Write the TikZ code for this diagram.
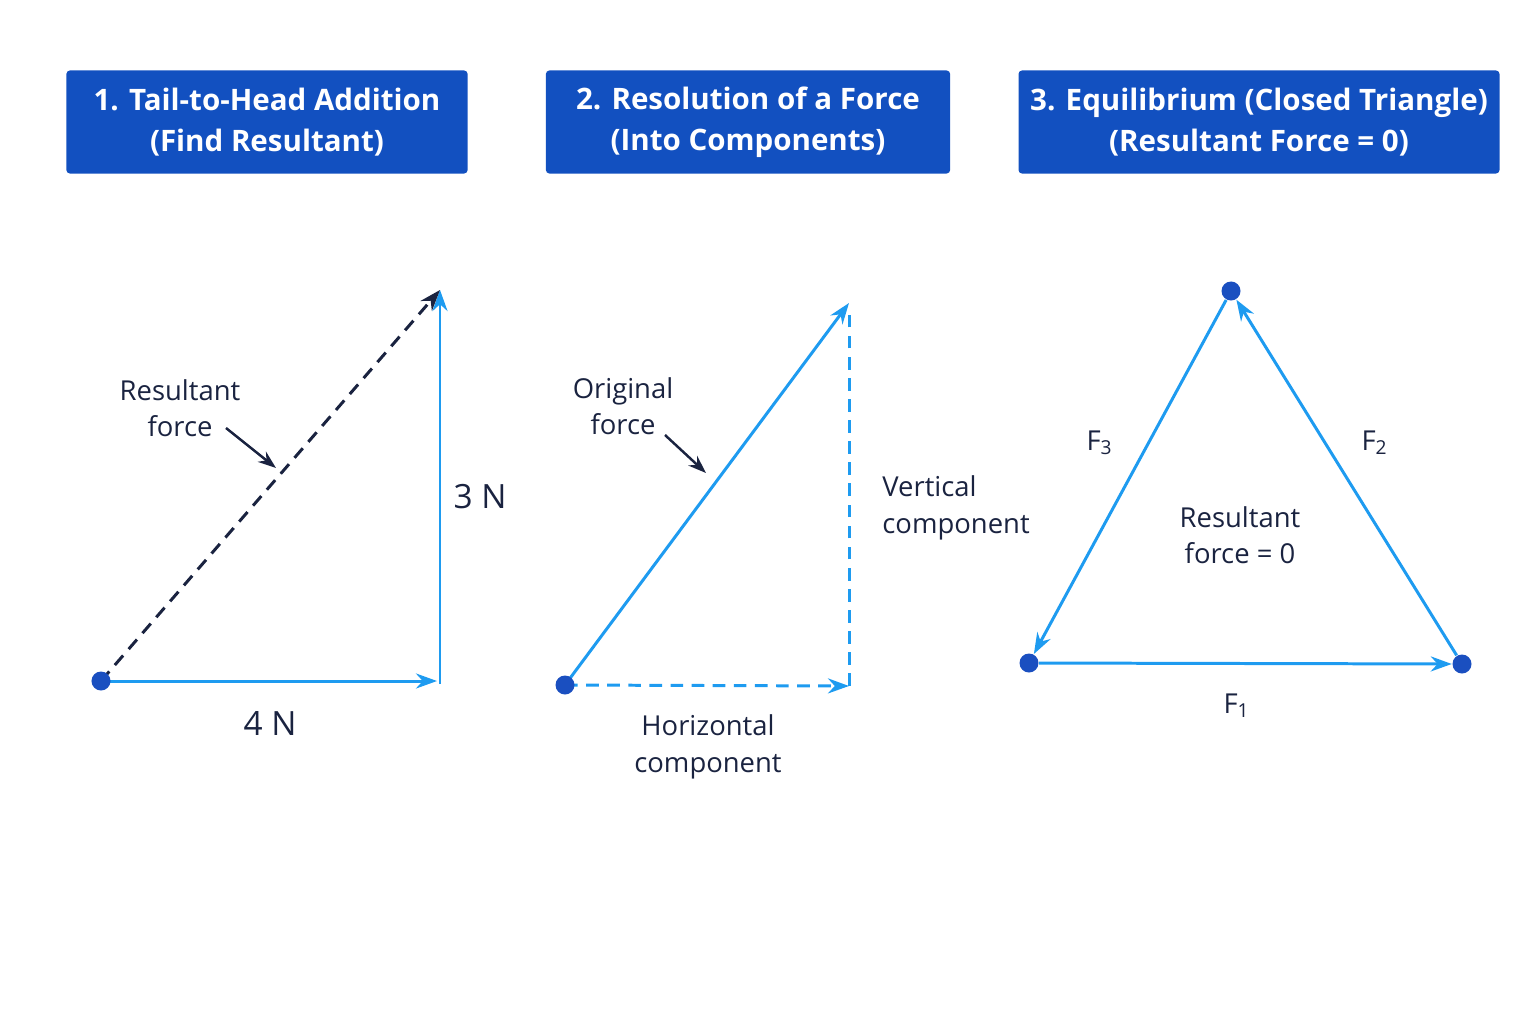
\documentclass[tikz,border=0pt]{standalone}
\usepackage{fontspec}
\setmainfont{Open Sans}
\usepackage{xcolor}
\usetikzlibrary{arrows.meta}
\definecolor{hdr}{HTML}{1250C0}
\definecolor{vec}{HTML}{1E9BF0}
\definecolor{pt}{HTML}{1A4FC0}
\definecolor{ink}{HTML}{1A2340}

\tikzset{
    header/.style={fill=hdr, rounded corners=1pt, text=white, font=\fontsize{8.4}{11.6}\selectfont\bfseries, align=center, minimum height=1.03cm},
    label/.style={text=ink, font=\fontsize{7.8}{10.4}\selectfont, align=center},
    force/.style={vec, line width=0.85pt, -{Stealth[length=2.1mm,width=1.5mm]}},
    dashline/.style={dash pattern=on 3.6pt off 2.4pt},
    dot/.style={circle, fill=pt, inner sep=0pt, minimum size=1.9mm},
    pointer/.style={ink, line width=0.7pt, -{Stealth[length=1.8mm,width=1.3mm]}}
}

\begin{document}
\begin{tikzpicture}[x=0.01cm, y=-0.01cm]

    \useasboundingbox (0,0) rectangle (1536,1024);

    % headers
    \node[header, minimum width=4.01cm] (h1) at (267,122) {1. Tail-to-Head Addition\\(Find Resultant)};
    \node[header, minimum width=4.04cm] (h2) at (748,122) {2. Resolution of a Force\\(Into Components)};
    \node[header, minimum width=4.56cm] (h3) at (1259,122) {3. Equilibrium (Closed Triangle)\\(Resultant Force = 0)};

    % panel 1
    \coordinate (a0) at (101,681);
    \coordinate (a1) at (437,681);
    \coordinate (a2) at (440,290);
    \draw[force] (a0) -- (a1);
    \draw[force] (440,684) -- (a2);
    \draw[ink, dashline, line width=0.85pt, -{Stealth[length=2.1mm,width=1.5mm]}] (a0) -- (a2);
    \node[dot] (d1) at (a0) {};
    \node[label] (res) at (180,408) {Resultant\\force};
    \coordinate (r1) at (276,468);
    \draw[pointer] (226,428) -- (r1);
    \node[label, font=\fontsize{9.5}{12}\selectfont] (n3) at (480,497) {3 N};
    \node[label, font=\fontsize{9.5}{12}\selectfont] (n4) at (270,724) {4 N};

    % panel 2
    \coordinate (b0) at (565,685);
    \coordinate (b1) at (849,686);
    \coordinate (b2) at (849,303);
    \draw[force] (b0) -- (b2);
    \draw[vec, dashline, line width=0.85pt] (b1) -- (849,310);
    \draw[force, dashline] (b0) -- (b1);
    \node[dot] (d2) at (b0) {};
    \node[label] (orig) at (623,406) {Original\\force};
    \coordinate (o1) at (706,473);
    \draw[pointer] (665,435) -- (o1);
    \node[label, align=left, anchor=west] (vc) at (870,508) {Vertical\\component};
    \node[label] (hc) at (708,747) {Horizontal\\component};

    % panel 3
    \node[dot] (c0) at (1231,291) {};
    \node[dot] (c1) at (1029,663) {};
    \node[dot] (c2) at (1462,664) {};
    \draw[force] (c1) -- (c2);
    \draw[force] (c2) -- (c0);
    \draw[force] (c0) -- (c1);
    \node[label] (f3) at (1100,443) {F\textsubscript{3}};
    \node[label] (f2) at (1375,443) {F\textsubscript{2}};
    \node[label] (f1) at (1237,706) {F\textsubscript{1}};
    \node[label] (zero) at (1240,535) {Resultant\\force = 0};

\end{tikzpicture}
\end{document}
